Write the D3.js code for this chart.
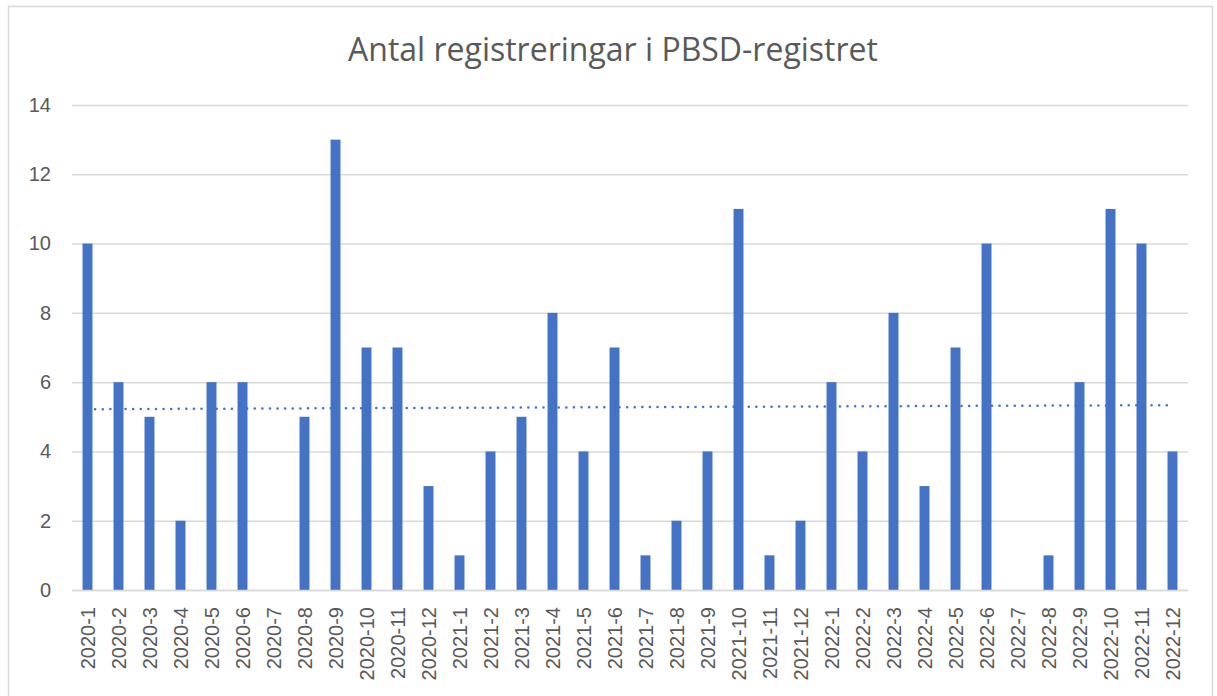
<!DOCTYPE html>
<html><head><meta charset="utf-8">
<script src="https://cdn.jsdelivr.net/npm/d3@7"></script>
<style>body{margin:0;background:#fff}svg{display:block}</style>
</head><body>
<script>
const categories = ["2020-1","2020-2","2020-3","2020-4","2020-5","2020-6","2020-7","2020-8","2020-9","2020-10","2020-11","2020-12",
"2021-1","2021-2","2021-3","2021-4","2021-5","2021-6","2021-7","2021-8","2021-9","2021-10","2021-11","2021-12",
"2022-1","2022-2","2022-3","2022-4","2022-5","2022-6","2022-7","2022-8","2022-9","2022-10","2022-11","2022-12"];
const values = [10,6,5,2,6,6,0,5,13,7,7,3, 1,4,5,8,4,7,1,2,4,11,1,2, 6,4,8,3,7,10,0,1,6,11,10,4];
const yTicks = [0,2,4,6,8,10,12,14];
const title = "Antal registreringar i PBSD-registret";

(function(){
const W = 1217, H = 696;
const svg = d3.select("body").append("svg").attr("width", W).attr("height", H);
svg.append("rect").attr("x", 8.5).attr("y", 6.5).attr("width", 1204).attr("height", 700)
  .attr("fill", "#fff").attr("stroke", "#d9d9d9").attr("stroke-width", 1.5);

const mLeft = 72, mRight = 1188, mTop = 105, mBottom = 590;
const x = d3.scaleBand().domain(categories).range([mLeft, mRight]).paddingInner(0.68).paddingOuter(0.34);
const y = d3.scaleLinear().domain([0, 14]).range([mBottom, mTop]);

const font = "'Liberation Sans', Arial, sans-serif";
svg.append("text").attr("x", 613).attr("y", 61).attr("text-anchor", "middle")
  .attr("font-family", "'Open Sans', sans-serif").attr("font-size", 32).attr("fill", "#595959")
  .text(title);

const yAxis = svg.append("g").attr("transform", `translate(${mLeft},0)`)
  .call(d3.axisLeft(y).tickValues(yTicks).tickSize(-(mRight - mLeft)).tickPadding(21));
yAxis.select(".domain").remove();
yAxis.selectAll(".tick line").attr("stroke", "#d9d9d9").attr("stroke-width", 1.5);
yAxis.selectAll(".tick text").attr("font-family", font).attr("font-size", 20).attr("fill", "#595959");

svg.append("g").selectAll("rect").data(values).join("rect")
  .attr("x", (d, i) => x(categories[i]))
  .attr("width", x.bandwidth())
  .attr("y", d => y(d))
  .attr("height", d => y(0) - y(d))
  .attr("fill", "#4472c4");

const xAxis = svg.append("g").attr("transform", `translate(0,${mBottom})`)
  .call(d3.axisBottom(x).tickSize(0).tickPadding(0));
xAxis.select(".domain").attr("stroke", "#d9d9d9").attr("stroke-width", 1.5);
xAxis.selectAll(".tick text")
  .attr("font-family", font).attr("font-size", 20).attr("fill", "#595959")
  .attr("transform", "rotate(-90)")
  .attr("text-anchor", "end").attr("y", 0).attr("x", 0)
  .attr("dx", -17).attr("dy", "0.36em");

const n = values.length;
const xs = d3.range(1, n + 1);
const mx = d3.mean(xs), my = d3.mean(values);
const slope = d3.sum(xs, (xi, i) => (xi - mx) * (values[i] - my)) / d3.sum(xs, xi => (xi - mx) ** 2);
const intercept = my - slope * mx;
const cx = i => x(categories[i]) + x.bandwidth() / 2;
svg.append("line")
  .attr("x1", cx(0)).attr("x2", cx(n - 1))
  .attr("y1", y(intercept + slope * 1)).attr("y2", y(intercept + slope * n))
  .attr("stroke", "#4472c4").attr("stroke-width", 2.5)
  .attr("stroke-dasharray", "0.1 7.5").attr("stroke-linecap", "round");
})();
</script>
</body></html>
